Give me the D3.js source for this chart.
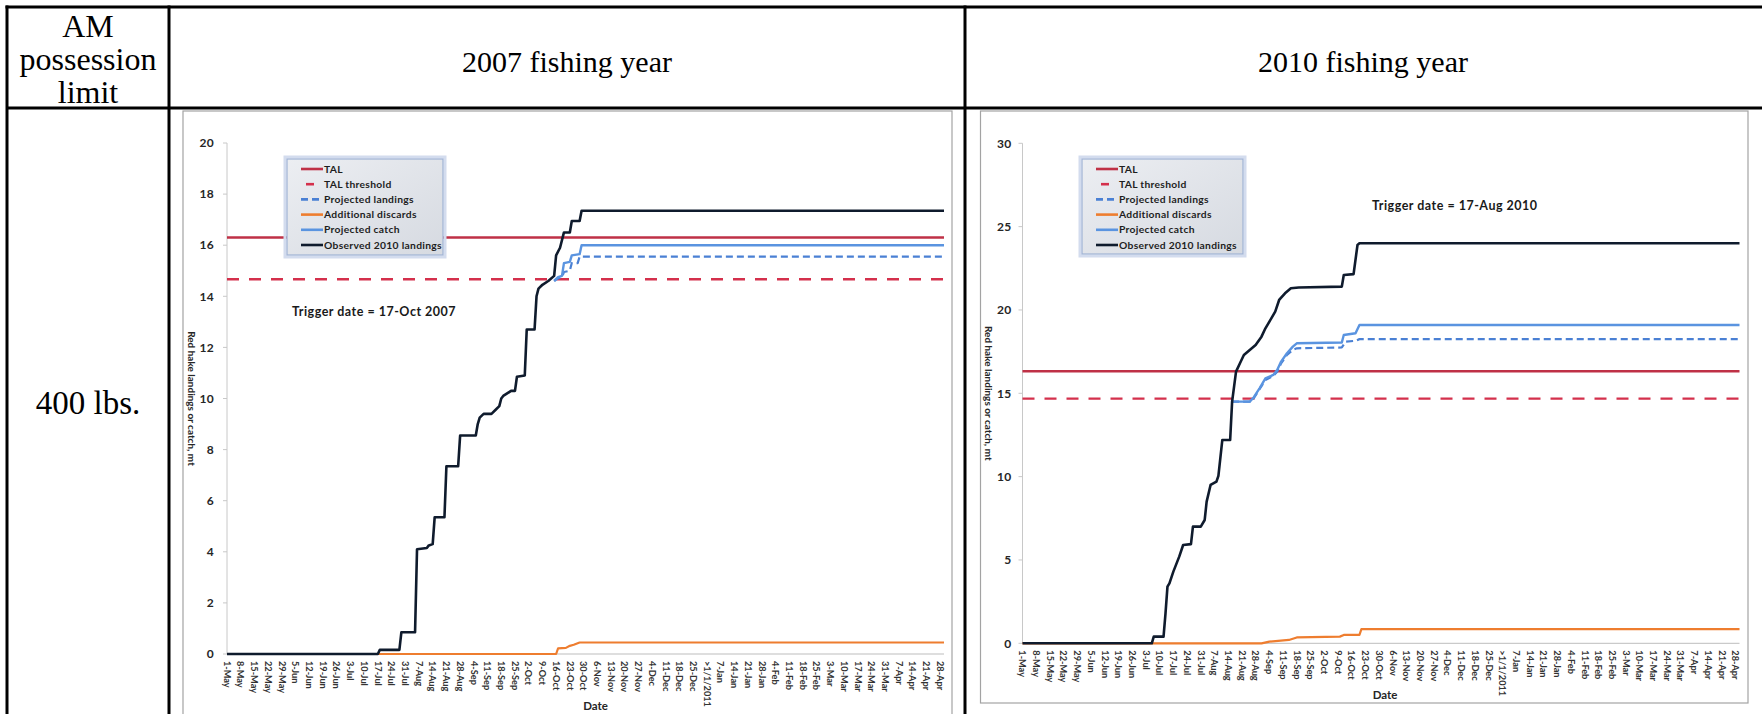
<!DOCTYPE html>
<html><head><meta charset="utf-8">
<script src="https://cdn.jsdelivr.net/npm/d3@7"></script>
<style>
html,body{margin:0;padding:0;background:#fff;}
svg{display:block;}
</style></head><body>
<svg id="c" width="1762" height="714"></svg>
<script>
// ---------- data ----------
const xTickLabels = ["1-May","8-May","15-May","22-May","29-May","5-Jun","12-Jun","19-Jun","26-Jun","3-Jul","10-Jul","17-Jul","24-Jul","31-Jul","7-Aug","14-Aug","21-Aug","28-Aug","4-Sep","11-Sep","18-Sep","25-Sep","2-Oct","9-Oct","16-Oct","23-Oct","30-Oct","6-Nov","13-Nov","20-Nov","27-Nov","4-Dec","11-Dec","18-Dec","25-Dec",">1/1/2011","7-Jan","14-Jan","21-Jan","28-Jan","4-Feb","11-Feb","18-Feb","25-Feb","3-Mar","10-Mar","17-Mar","24-Mar","31-Mar","7-Apr","14-Apr","21-Apr","28-Apr"];
const legendLabels = ["TAL","TAL threshold","Projected landings","Additional discards","Projected catch","Observed 2010 landings"];
const headerLabels = ["AM\npossession\nlimit","2007 fishing year","2010 fishing year"];
const rowLabel = "400 lbs.";
const yTitle = "Red hake landings or catch, mt";
const xTitle = "Date";

// 2007 fishing year  (day index from 1-May, value in mt)
const yTicks2007 = [0,2,4,6,8,10,12,14,16,18,20];
const tal2007 = [[0,16.3],[366,16.3]];
const threshold2007 = [[0,14.67],[366,14.67]];
const observed2007 = [[0,0],[77,0],[78,0.16],[88,0.16],[89,0.85],[96,0.85],[97,4.1],[102,4.15],[103,4.25],[105,4.3],[106,5.35],[111,5.35],[112,7.35],[118,7.35],[119,8.55],[127,8.55],[128,9.0],[129,9.25],[131,9.4],[135,9.4],[137,9.55],[139,9.7],[140,10.0],[141,10.1],[143,10.2],[145,10.3],[147,10.3],[148,10.85],[152,10.9],[153,12.7],[157,12.7],[158,14.0],[159,14.3],[161,14.45],[164,14.6],[167,14.8],[168,15.6],[170,15.9],[172,16.5],[175,16.5],[176,16.95],[180,16.95],[181,17.35],[366,17.35]];
const discards2007 = [[0,0],[168,0],[169,0.22],[173,0.24],[175,0.32],[177,0.36],[180,0.45],[366,0.45]];
const catch2007 = [[167,14.6],[169,14.75],[171,14.8],[172,15.3],[175,15.35],[176,15.6],[180,15.65],[181,16.0],[366,16.0]];
const landings2007 = [[167,14.6],[169,14.7],[171,14.75],[172,14.95],[175,15.0],[176,15.3],[179,15.3],[180,15.55],[366,15.55]];
const trigger2007 = "Trigger date = 17-Oct 2007";

// 2010 fishing year
const yTicks2010 = [0,5,10,15,20,25,30];
const tal2010 = [[0,16.32],[366,16.32]];
const threshold2010 = [[0,14.68],[366,14.68]];
const observed2010 = [[0,0],[66,0],[67,0.4],[72,0.4],[73,1.8],[74,3.4],[75,3.6],[77,4.3],[79,4.9],[80,5.2],[82,5.9],[86,5.95],[87,7.0],[91,7.0],[93,7.4],[94,8.5],[96,9.5],[99,9.7],[100,10.05],[102,12.2],[106,12.2],[107,14.5],[109,16.3],[111,16.8],[113,17.3],[116,17.6],[119,17.9],[122,18.4],[124,18.9],[127,19.5],[129,19.9],[131,20.6],[134,21.0],[137,21.3],[141,21.35],[163,21.4],[164,22.1],[169,22.15],[171,23.9],[172,24.0],[366,24.0]];
const discards2010 = [[0,0],[122,0],[126,0.1],[136,0.2],[140,0.35],[162,0.4],[164,0.5],[172,0.5],[173,0.85],[366,0.85]];
const catch2010 = [[107,14.5],[116,14.5],[118,14.75],[121,15.3],[124,15.9],[128,16.1],[130,16.4],[132,16.9],[135,17.4],[138,17.8],[140,18.0],[163,18.05],[164,18.5],[170,18.6],[172,19.1],[366,19.1]];
const landings2010 = [[107,14.5],[116,14.5],[118,14.7],[121,15.25],[124,15.8],[128,16.05],[130,16.3],[132,16.8],[135,17.3],[138,17.6],[140,17.7],[163,17.75],[165,18.1],[170,18.15],[172,18.25],[366,18.25]];
const trigger2010 = "Trigger date = 17-Aug 2010";

// ---------- drawing ----------
const svg = d3.select("#c");
const defs = svg.append("defs");
const grad = defs.append("linearGradient").attr("id","lg").attr("x1",0).attr("y1",0).attr("x2",1).attr("y2",1);
grad.append("stop").attr("offset","0%").attr("stop-color","#eceef2");
grad.append("stop").attr("offset","100%").attr("stop-color","#d6dae1");

const CF = "Lato, 'Open Sans', 'DejaVu Sans', sans-serif";
const SF = "'Liberation Serif', 'Times New Roman', serif";

const styles = {
  tal:       {stroke:"#bf3146", width:2.6, dash:null},
  threshold: {stroke:"#d4304c", width:2.4, dash:"12,10"},
  landings:  {stroke:"#4a80d4", width:2.2, dash:"7,4"},
  discards:  {stroke:"#ee7d2f", width:2.2, dash:null},
  catch:     {stroke:"#5a94e0", width:2.4, dash:null},
  observed:  {stroke:"#0f1b2d", width:2.6, dash:null}
};
const legendKeys = ["tal","threshold","landings","discards","catch","observed"];

function drawChart(cfg){
  const g = svg.append("g");
  g.append("rect").attr("x",cfg.frame[0]).attr("y",cfg.frame[1]).attr("width",cfg.frame[2]).attr("height",cfg.frame[3])
    .attr("fill","#fff").attr("stroke","#a3a3a3").attr("stroke-width",1.2);
  const x = d3.scaleLinear().domain([0,366]).range(cfg.xr);
  const y = d3.scaleLinear().domain([0,cfg.yMax]).range(cfg.yr);

  g.append("line").attr("x1",cfg.xr[0]).attr("x2",cfg.xr[0]).attr("y1",cfg.yr[0]).attr("y2",cfg.yr[1])
    .attr("stroke","#c8c8c8").attr("stroke-width",1);
  g.append("line").attr("x1",cfg.xr[0]).attr("x2",cfg.xr[1]).attr("y1",cfg.yr[0]).attr("y2",cfg.yr[0])
    .attr("stroke","#bdbdbd").attr("stroke-width",1);

  const yt = g.append("g");
  cfg.yTicks.forEach(v=>{
    yt.append("line").attr("x1",cfg.xr[0]-4).attr("x2",cfg.xr[0]).attr("y1",y(v)).attr("y2",y(v)).attr("stroke","#c8c8c8");
    yt.append("text").attr("x",cfg.xr[0]-cfg.yLabOff).attr("y",y(v)).attr("dy","0.35em")
      .attr("text-anchor","end").attr("font-family",CF).attr("font-weight","bold").attr("font-size",12)
      .attr("letter-spacing",0.3).attr("fill","#262626").text(v);
  });
  const xt = g.append("g");
  xTickLabels.forEach((lab,i)=>{
    xt.append("text").attr("transform",`translate(${x(i*7)},${cfg.yr[0]+7}) rotate(90)`)
      .attr("dy","0.35em").attr("text-anchor","start").attr("font-family",CF).attr("font-weight","bold")
      .attr("font-size",9.2).attr("fill","#333").text(lab);
  });
  g.append("text").attr("transform",`translate(${cfg.yTitleX},${(cfg.yr[0]+cfg.yr[1])/2}) rotate(90)`)
    .attr("text-anchor","middle").attr("dy","0.35em").attr("font-family",CF).attr("font-weight","bold")
    .attr("font-size",10).attr("fill","#262626").text(yTitle);
  g.append("text").attr("x",(cfg.xr[0]+cfg.xr[1])/2+cfg.dateOff).attr("y",cfg.yr[0]+52).attr("dy","0.35em")
    .attr("text-anchor","middle").attr("font-family",CF).attr("font-weight","bold")
    .attr("font-size",11.5).attr("fill","#262626").text(xTitle);

  const line = d3.line().x(d=>x(d[0])).y(d=>y(d[1]));
  const order = ["tal","threshold","discards","landings","catch","observed"];
  order.forEach(k=>{
    const s = styles[k];
    g.append("path").datum(cfg.series[k]).attr("d",line).attr("fill","none")
      .attr("stroke",s.stroke).attr("stroke-width",s.width)
      .attr("stroke-dasharray",s.dash).attr("stroke-linejoin","round");
  });

  g.append("text").attr("x",cfg.trigger[0]).attr("y",cfg.trigger[1]).attr("dy","0.35em")
    .attr("font-family",CF).attr("font-weight","bold").attr("font-size",12.5).attr("letter-spacing",0.5)
    .attr("fill","#1a1a1a").text(cfg.triggerText);

  const [lx,ly,lw,lh] = cfg.legend;
  g.append("rect").attr("x",lx-2).attr("y",ly-2).attr("width",lw+4).attr("height",lh+4)
    .attr("fill","none").attr("stroke","#d3dcee").attr("stroke-width",3);
  g.append("rect").attr("x",lx).attr("y",ly).attr("width",lw).attr("height",lh)
    .attr("fill","url(#lg)").attr("stroke","#9fb2d4").attr("stroke-width",1.2);
  legendKeys.forEach((k,i)=>{
    const ry = ly+10+i*15.2;
    const s = styles[k];
    const sx0 = lx+14, sx1 = lx+36;
    if(k==="threshold"){
      g.append("line").attr("x1",sx0+5).attr("x2",sx0+13).attr("y1",ry).attr("y2",ry)
        .attr("stroke",s.stroke).attr("stroke-width",2.6);
    } else {
      g.append("line").attr("x1",sx0).attr("x2",sx1).attr("y1",ry).attr("y2",ry)
        .attr("stroke",s.stroke).attr("stroke-width",2.6).attr("stroke-dasharray",s.dash);
    }
    g.append("text").attr("x",sx1+1).attr("y",ry).attr("dy","0.35em").attr("font-family",CF)
      .attr("font-weight","bold").attr("font-size",10.3).attr("letter-spacing",0.3)
      .attr("fill","#1e1e1e").text(legendLabels[i]);
  });
}

drawChart({
  frame:[183,111,769,640], xr:[227,944], yr:[654,143], yMax:20, yTicks:yTicks2007, yLabOff:13,
  yTitleX:191, trigger:[292,312], triggerText:trigger2007, legend:[287,159,156,96], dateOff:10,
  series:{tal:tal2007,threshold:threshold2007,landings:landings2007,discards:discards2007,catch:catch2007,observed:observed2007}
});
drawChart({
  frame:[980.5,111,767.5,592], xr:[1022.5,1739.5], yr:[643.3,143.3], yMax:30, yTicks:yTicks2010, yLabOff:11,
  yTitleX:988, trigger:[1372,206], triggerText:trigger2010, legend:[1082,159,161,95], dateOff:4,
  series:{tal:tal2010,threshold:threshold2010,landings:landings2010,discards:discards2010,catch:catch2010,observed:observed2010}
});

// ---------- table ----------
const T = svg.append("g").attr("stroke","#000").attr("stroke-width",3);
T.append("line").attr("x1",5.5).attr("x2",1762).attr("y1",7).attr("y2",7);
T.append("line").attr("x1",7).attr("x2",1762).attr("y1",108).attr("y2",108);
T.append("line").attr("x1",7).attr("x2",7).attr("y1",5.5).attr("y2",714);
T.append("line").attr("x1",169).attr("x2",169).attr("y1",5.5).attr("y2",714);
T.append("line").attr("x1",965).attr("x2",965).attr("y1",5.5).attr("y2",714);

const h0 = svg.append("text").attr("font-family",SF).attr("font-size",32).attr("fill","#000").attr("text-anchor","middle");
headerLabels[0].split("\n").forEach((t,i)=>{
  h0.append("tspan").attr("x",88).attr("y",37+i*33).text(t);
});
svg.append("text").attr("x",567).attr("y",72).attr("text-anchor","middle").attr("font-family",SF)
  .attr("font-size",30).attr("fill","#000").text(headerLabels[1]);
svg.append("text").attr("x",1363).attr("y",72).attr("text-anchor","middle").attr("font-family",SF)
  .attr("font-size",30).attr("fill","#000").text(headerLabels[2]);
svg.append("text").attr("x",88).attr("y",414).attr("text-anchor","middle").attr("font-family",SF)
  .attr("font-size",33).attr("fill","#000").text(rowLabel);
</script>
</body></html>
